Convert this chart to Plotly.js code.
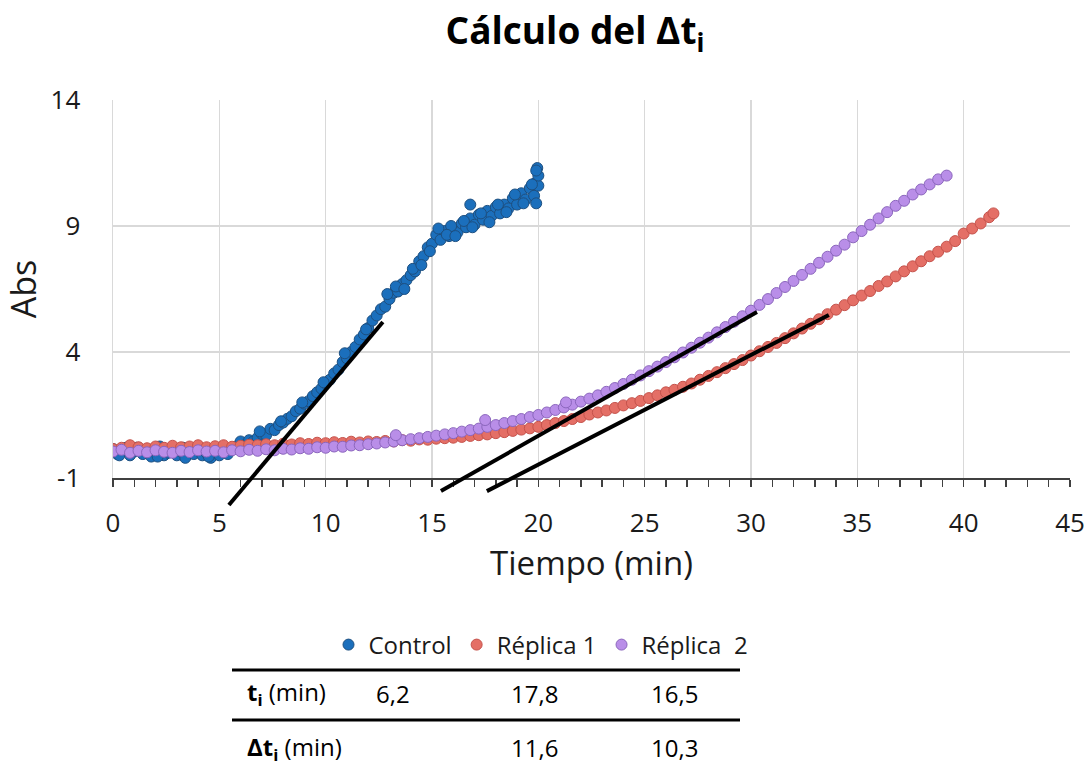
<!DOCTYPE html>
<html>
<head>
<meta charset="utf-8">
<script src="https://cdn.plot.ly/plotly-3.0.1.min.js"></script>
<style>
  html, body { margin: 0; padding: 0; background: #ffffff; }
  #chart { width: 1091px; height: 769px; }
</style>
</head>
<body>
<div id="chart"></div>
<script>
// ---------------- DATA ----------------
const seriesNames = ['Control', 'Réplica 1', 'Réplica\u00a0 2'];

const controlT = [0,0.2,0.4,0.6,0.8,1,1.2,1.4,1.6,1.8,2,2.2,2.4,2.6,2.8,3,3.2,3.4,3.6,3.8,
  4,4.2,4.4,4.6,4.8,5,5.2,5.4,5.6,5.8,6,6.2,6.4,6.6,6.8,7,7.2,7.4,7.6,7.8,
  8,8.2,8.4,8.6,8.8,9,9.2,9.4,9.6,9.8,10,10.2,10.4,10.6,10.8,11,11.2,11.4,11.6,11.8,
  12,12.2,12.4,12.6,12.8,13,13.2,13.4,13.6,13.8,14,14.2,14.4,14.6,14.8,15,15.2,15.4,15.6,15.8,
  16,16.2,16.4,16.6,16.8,17,17.2,17.4,17.6,17.8,18,18.2,18.4,18.6,18.8,19,19.2,19.4,19.6,19.8,
  19.85,19.9,19.95,20,20,16.8,15.9,19.9,
  12.9,13.3,13.7,14.1,14.5,14.9,15.3,15.7,16.1,16.5,16.9,17.3,17.7,18.1,18.5,18.9,19.3,19.7,
  0.3,1.1,2.1,3.3,4.5,5.3,6.9,7.9,8.9,9.9,10.9,11.9];
const controlAbs = [0.15,-0.05,0.1,0.2,-0.1,0.05,0.2,-0.05,0.1,-0.15,0.05,0.25,-0.1,0,0.15,-0.1,0.05,-0.2,0.1,-0.05,
  0.2,-0.1,0,-0.2,0.05,-0.1,0.1,-0.05,0.15,0.25,0.45,0.3,0.5,0.45,0.6,0.75,0.7,0.95,0.9,1.1,
  1.2,1.35,1.45,1.65,1.75,1.95,2.05,2.25,2.4,2.55,2.75,2.9,3.15,3.3,3.6,3.75,4,4.2,4.5,4.7,
  4.95,5.25,5.45,5.7,5.8,6.1,6.35,6.4,6.7,6.85,7.05,7.2,7.6,7.8,8.15,8.3,8.65,8.45,8.8,8.6,
  8.9,8.75,9.1,8.95,9.3,9.05,9.45,9.25,9.6,9.4,9.75,9.5,9.85,9.7,10.1,9.85,10.3,10.05,10.5,10.2,
  10.7,9.9,11.3,10.6,11.0,9.85,9.0,11.2,
  6.3,6.6,6.5,7.3,7.45,8.0,8.9,8.65,8.6,9.2,8.95,9.5,9.15,9.85,9.55,10.25,9.9,10.65,
  -0.1,0.2,-0.15,0.2,-0.15,0.15,0.85,1.25,2.0,2.8,3.95,4.9];

const rep1T = [0,0.4,0.8,1.2,1.6,2,2.4,2.8,3.2,3.6,4,4.4,4.8,5.2,5.6,6,6.4,6.8,7.2,7.6,
  8,8.4,8.8,9.2,9.6,10,10.4,10.8,11.2,11.6,12,12.4,12.8,13.2,13.6,14,14.4,14.8,15.2,15.6,
  16,16.4,16.8,17.2,17.6,18,18.4,18.8,19.2,19.6,20,20.4,20.8,21.2,21.6,22,22.4,22.8,23.2,23.6,
  24,24.4,24.8,25.2,25.6,26,26.4,26.8,27.2,27.6,28,28.4,28.8,29.2,29.6,30,30.4,30.8,31.2,31.6,
  32,32.4,32.8,33.2,33.6,34,34.4,34.8,35.2,35.6,36,36.4,36.8,37.2,37.6,38,38.4,38.8,39.2,39.6,
  40,40.4,40.8,41.2,41.4];
const rep1Abs = [0.15,0.2,0.3,0.22,0.18,0.25,0.2,0.28,0.22,0.25,0.3,0.22,0.26,0.3,0.24,0.28,0.32,0.3,0.34,0.3,
  0.36,0.33,0.38,0.35,0.4,0.38,0.42,0.39,0.44,0.41,0.45,0.43,0.47,0.45,0.5,0.48,0.53,0.52,0.56,0.58,
  0.6,0.63,0.67,0.7,0.73,0.78,0.82,0.87,0.92,0.97,1.03,1.1,1.18,1.26,1.34,1.42,1.52,1.6,1.68,1.78,
  1.88,1.97,2.06,2.17,2.28,2.4,2.5,2.62,2.75,2.9,3.05,3.2,3.36,3.52,3.68,3.86,4.03,4.2,4.36,4.55,
  4.74,4.93,5.12,5.3,5.5,5.68,5.86,6.05,6.24,6.42,6.62,6.8,7,7.2,7.4,7.6,7.8,7.98,8.18,8.4,
  8.7,8.9,9.1,9.35,9.5];

const rep2T = [0,0.4,0.8,1.2,1.6,2,2.4,2.8,3.2,3.6,4,4.4,4.8,5.2,5.6,6,6.4,6.8,7.2,7.6,
  8,8.4,8.8,9.2,9.6,10,10.4,10.8,11.2,11.6,12,12.4,12.8,13.2,13.6,14,14.4,14.8,15.2,15.6,
  16,16.4,16.8,17.2,17.6,18,18.4,18.8,19.2,19.6,20,20.4,20.8,21.2,21.6,22,22.4,22.8,23.2,23.6,
  24,24.4,24.8,25.2,25.6,26,26.4,26.8,27.2,27.6,28,28.4,28.8,29.2,29.6,30,30.4,30.8,31.2,31.6,
  32,32.4,32.8,33.2,33.6,34,34.4,34.8,35.2,35.6,36,36.4,36.8,37.2,37.6,38,38.4,38.8,39.2,
  17.5,21.3,13.3];
const rep2Abs = [0.05,0.12,0,0.08,0.02,0.1,0.04,0,0.08,0.03,0.1,0.05,0.08,0.02,0.1,0.06,0.12,0.08,0.14,0.1,
  0.16,0.13,0.18,0.16,0.22,0.2,0.25,0.24,0.29,0.3,0.34,0.37,0.41,0.45,0.5,0.54,0.58,0.63,0.68,0.73,
  0.78,0.84,0.9,0.96,1.03,1.1,1.18,1.26,1.34,1.42,1.5,1.6,1.7,1.8,1.91,2.03,2.15,2.28,2.42,2.57,
  2.73,2.9,3.07,3.24,3.42,3.6,3.79,3.98,4.17,4.37,4.57,4.78,4.99,5.2,5.42,5.64,5.87,6.1,6.34,6.58,
  6.82,7.06,7.3,7.54,7.78,8.02,8.26,8.55,8.8,9.05,9.3,9.55,9.8,10,10.25,10.45,10.65,10.85,11.0,
  1.3,2.0,0.7];

// tangent lines used to obtain t_i
const fitCtrlT = [5.45, 12.69];
const fitCtrlAbs = [-2.07, 5.19];
const fitRep1T = [17.58, 33.66];
const fitRep1Abs = [-1.52, 5.47];
const fitRep2T = [15.42, 30.28];
const fitRep2Abs = [-1.52, 5.59];

// axis ticks
const xTickVals = [0, 5, 10, 15, 20, 25, 30, 35, 40, 45];
const yTickVals = [-1, 4, 9, 14];
const yTickText = ['-1', '4', '9', '14'];

// table below the chart
const tableRowLabels = ['<b>t</b><sub><b>i</b></sub> (min)', '<b>Δt</b><sub><b>i</b></sub> (min)'];
const tiValues = ['6,2', '17,8', '16,5'];
const dtiValues = ['', '11,6', '10,3'];

// ---------------- STYLE ----------------
const FONT = 'Open Sans, Noto Sans, sans-serif';
const W = 1091, H = 769;
const M = {l: 113, r: 21, t: 100, b: 249};
const plotW = W - M.l - M.r, plotH = H - M.t - M.b;
const yPad = 0.1; // fraction of plot area below the x axis (room for the tangent lines)
const px2x = px => (px - M.l) / plotW;
const px2y = py => (H - M.b - py) / plotH;

const markerStyles = [
  {color: '#1b6fbc', line: {color: '#1d4f80', width: 1}},
  {color: '#e46f66', line: {color: '#c5524b', width: 1}},
  {color: '#b98ee8', line: {color: '#8b66bd', width: 1}}
];

const dataSets = [[controlT, controlAbs], [rep1T, rep1Abs], [rep2T, rep2Abs]];
const traces = dataSets.map((d, i) => ({
  type: 'scatter', mode: 'markers', name: seriesNames[i],
  x: d[0], y: d[1],
  marker: Object.assign({size: 11, symbol: 'circle'}, markerStyles[i]),
  xaxis: 'x', yaxis: 'y', hoverinfo: 'x+y'
}));

[[fitCtrlT, fitCtrlAbs], [fitRep1T, fitRep1Abs], [fitRep2T, fitRep2Abs]].forEach(f => {
  traces.push({
    type: 'scatter', mode: 'lines', x: f[0], y: f[1],
    line: {color: '#000000', width: 4},
    xaxis: 'x2', yaxis: 'y2', showlegend: false, hoverinfo: 'skip'
  });
});

const yMin = -1, yMax = 14;
const y2Min = yMin - (yMax - yMin) * yPad / (1 - yPad);

// table
const annotations = [];
const shapes = [];
const colX = [393, 534, 674];
const rowY = [693, 748];
[tiValues, dtiValues].forEach((row, r) => {
  annotations.push({
    xref: 'paper', yref: 'paper', x: px2x(245), y: px2y(rowY[r]),
    xanchor: 'left', yanchor: 'middle', showarrow: false,
    text: tableRowLabels[r], font: {family: FONT, size: 24, color: '#000000'}
  });
  row.forEach((v, c) => {
    if (v === '') return;
    annotations.push({
      xref: 'paper', yref: 'paper', x: px2x(colX[c]), y: px2y(rowY[r]),
      xanchor: 'center', yanchor: 'middle', showarrow: false,
      text: v, font: {family: FONT, size: 24, color: '#000000'}
    });
  });
});
[670, 720].forEach(py => {
  shapes.push({
    type: 'line', xref: 'paper', yref: 'paper',
    x0: px2x(232), x1: px2x(740), y0: px2y(py), y1: px2y(py),
    line: {color: '#000000', width: 3}
  });
});

const layout = {
  width: W, height: H,
  margin: M,
  paper_bgcolor: '#ffffff', plot_bgcolor: 'rgba(0,0,0,0)',
  font: {family: FONT, color: '#1a1a1a'},
  title: {
    text: '<b>Cálculo del Δt<sub>i</sub></b>',
    font: {family: FONT, size: 37, color: '#000000'},
    xref: 'container', x: 575 / W, xanchor: 'center',
    yref: 'container', y: 1 - 18 / H, yanchor: 'top'
  },
  xaxis: {
    domain: [0, 1], anchor: 'y', range: [0, 45],
    tickmode: 'array', tickvals: xTickVals,
    showgrid: true, gridcolor: '#d9d9d9', gridwidth: 1.5,
    zeroline: false,
    showline: true, linecolor: '#404040', linewidth: 1.5,
    ticks: 'outside', ticklen: 7, tickcolor: '#404040', tickwidth: 1.5,
    minor: {dtick: 1, tick0: 0, ticks: 'outside', ticklen: 7, tickcolor: '#404040', tickwidth: 1.5, showgrid: false},
    ticklabelstandoff: 14,
    tickfont: {family: FONT, size: 26, color: '#1a1a1a'},
    title: {text: 'Tiempo (min)', font: {family: FONT, size: 33, color: '#1a1a1a'}, standoff: 12}
  },
  yaxis: {
    domain: [yPad, 1], anchor: 'x', range: [yMin, yMax],
    tickmode: 'array', tickvals: yTickVals, ticktext: yTickText,
    showgrid: true, gridcolor: '#d9d9d9', gridwidth: 1.5,
    zeroline: false,
    showline: true, linecolor: '#d9d9d9', linewidth: 1.5,
    ticks: '', ticklabelstandoff: 26,
    tickfont: {family: FONT, size: 26, color: '#1a1a1a'},
    title: {text: 'Abs', font: {family: FONT, size: 34, color: '#1a1a1a'}, standoff: 4}
  },
  xaxis2: {domain: [0, 1], anchor: 'y2', range: [0, 45], visible: false, fixedrange: true},
  yaxis2: {domain: [0, 1], anchor: 'x2', range: [y2Min, yMax], visible: false, fixedrange: true},
  showlegend: true,
  legend: {
    orientation: 'h',
    x: px2x(541), xanchor: 'center',
    y: px2y(645), yanchor: 'middle',
    font: {family: FONT, size: 24, color: '#1a1a1a'},
    bgcolor: 'rgba(0,0,0,0)', borderwidth: 0
  },
  annotations: annotations,
  shapes: shapes
};

Plotly.newPlot('chart', traces, layout, {displayModeBar: false, staticPlot: true});
</script>
</body>
</html>
